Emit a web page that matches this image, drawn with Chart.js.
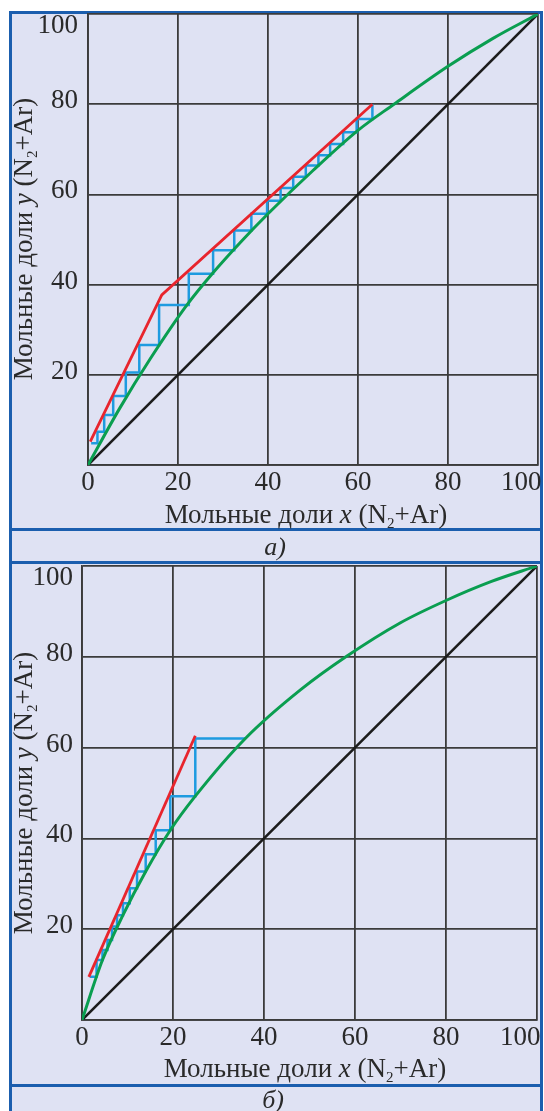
<!DOCTYPE html>
<html lang="ru">
<head>
<meta charset="utf-8">
<title>Мольные доли x, y (N2+Ar)</title>
<script src="https://cdn.jsdelivr.net/npm/chart.js@4.4.1/dist/chart.umd.min.js"></script>
<style>
  html, body { margin: 0; padding: 0; background: #fff; }
  body { width: 544px; height: 1111px; position: relative; overflow: hidden; font-family: 'Liberation Serif', serif; color: #2a2a2a; }
  #frame { position: absolute; left: 9px; top: 11px; width: 528px; height: 1120px; border: 3px solid #1b5eae; background: #dfe2f3; }
  .rule { position: absolute; left: 9px; width: 534px; height: 3px; background: #1b5eae; }
  canvas { position: absolute; left: 0; }
  .xtitle, .ytitle { position: absolute; width: 400px; text-align: center; font-size: 27px; line-height: 30px; white-space: nowrap; }
  .ytitle { transform: rotate(-90deg); }
  .cap { position: absolute; width: 100px; text-align: center; font-size: 26px; line-height: 30px; font-style: italic; }
  sub { font-size: 15px; vertical-align: -5px; line-height: 0; }
</style>
</head>
<body>
<div id="frame"></div>
<div class="rule" style="top:528px"></div>
<div class="rule" style="top:561px"></div>
<div class="rule" style="top:1084px"></div>

<canvas id="chart-a" width="544" height="529" style="top:0"></canvas>
<canvas id="chart-b" width="544" height="533" style="top:552px"></canvas>

<div class="ytitle" style="left:-177px; top:224px">Мольные доли <i>y</i> (N<sub>2</sub>+Ar)</div>
<div class="xtitle" style="left:106px; top:499px">Мольные доли <i>x</i> (N<sub>2</sub>+Ar)</div>
<div class="cap" style="left:225px; top:532px">а)</div>

<div class="ytitle" style="left:-177px; top:778px">Мольные доли <i>y</i> (N<sub>2</sub>+Ar)</div>
<div class="xtitle" style="left:105px; top:1053px">Мольные доли <i>x</i> (N<sub>2</sub>+Ar)</div>
<div class="cap" style="left:223px; top:1085px">б)</div>

<script>
// диагональ y = x
const diagX = [0, 100];
const diagY = [0, 100];

// панель а) — кривая равновесия
const eqXa = [0, 7, 13.8, 22, 27.6, 34, 40, 50, 60, 68, 80, 90, 100];
const eqYa = [0, 12.5, 23.5, 35.5, 42.4, 49.5, 55.7, 65.3, 74.2, 80, 88.4, 94.6, 100];
// рабочая линия (с изломом)
const opXa = [0.5, 16.4, 63.2];
const opYa = [5.2, 37.7, 80];
// ступени: вертикали по x, горизонтали по y
const stepXa = [63.2, 59.7, 56.7, 53.8, 51.2, 48.4, 45.6, 42.8, 39.8, 36.3, 32.5, 27.8, 22.4, 15.8, 11.4, 8.4, 5.6, 3.6, 2.1, 0.7];
const stepYa = [76.7, 73.8, 71.2, 68.7, 66.4, 63.9, 61.4, 58.6, 55.7, 52.0, 47.6, 42.4, 35.5, 26.6, 20.5, 15.3, 11.1, 7.4, 4.8];
const stepStartYa = 80;

// панель б)
const eqXb = [0, 4.5, 9, 14, 19.4, 24.9, 35.9, 48, 58, 70, 80, 90, 100];
const eqYb = [0, 13.2, 23.1, 32.7, 41.8, 49.3, 62, 72.7, 80, 87.5, 92.4, 96.6, 100];
const opXb = [1.5, 24.9];
const opYb = [9.5, 62.6];
const stepXb = [35.9, 24.9, 19.4, 16.2, 14.0, 12.1, 10.5, 9.0, 7.7, 6.6, 5.6, 4.5, 3.2, 1.7];
const stepYb = [62.0, 49.3, 41.8, 36.5, 32.7, 29.0, 25.7, 23.1, 20.6, 17.6, 15.4, 13.2, 9.5];

const axisMin = 0;
const axisMax = 100;
const tickStep = 20;

const GREEN = '#0a9e50';
const RED = '#e8252d';
const BLUE = '#1e9be0';
const BLACK = '#1c1c1c';
const GRID = '#3b3b3b';
const TEXT = '#2a2a2a';

function pts(xs, ys) {
    return xs.map((x, i) => ({ x: x, y: ys[i] }));
}

// ступенчатая линия: вертикаль вниз до кривой, горизонталь влево до рабочей линии
function staircase(xs, ys, startY) {
    const out = [];
    if (startY != null) out.push({ x: xs[0], y: startY });
    for (let i = 0; i < ys.length; i++) {
        out.push({ x: xs[i], y: ys[i] });
        out.push({ x: xs[i + 1], y: ys[i] });
    }
    return out;
}

function makeChart(id, eq, op, steps, o) {
    const ctx = document.getElementById(id).getContext('2d');
    const tickFont = { family: 'Liberation Serif', size: 27, lineHeight: 1.1 };
    return new Chart(ctx, {
        type: 'scatter',
        data: {
            datasets: [
                { data: op, borderColor: RED, borderWidth: 2.8, showLine: true, pointRadius: 0, tension: 0 },
                { data: eq, borderColor: GREEN, borderWidth: 3, showLine: true, pointRadius: 0, cubicInterpolationMode: 'monotone' },
                { data: pts(diagX, diagY), borderColor: BLACK, borderWidth: 2.6, showLine: true, pointRadius: 0 },
                { data: steps, borderColor: BLUE, borderWidth: 2.5, showLine: true, pointRadius: 0, tension: 0 }
            ]
        },
        options: {
            responsive: false,
            animation: false,
            layout: { padding: { top: 14, right: o.right, bottom: 0, left: 0 } },
            plugins: { legend: { display: false }, tooltip: { enabled: false } },
            scales: {
                x: {
                    type: 'linear', min: axisMin, max: axisMax,
                    ticks: {
                        stepSize: tickStep, padding: 3, color: TEXT, font: tickFont,
                        maxRotation: 0, autoSkip: false,
                        callback: v => v === axisMax ? '100     ' : String(v)
                    },
                    grid: { color: GRID, lineWidth: 1.8, drawTicks: false },
                    border: { color: GRID, width: 1.8 },
                    afterFit: s => { s.height = o.xh; s.paddingLeft = 0; s.paddingRight = 0; }
                },
                y: {
                    type: 'linear', min: axisMin, max: axisMax,
                    ticks: {
                        stepSize: tickStep, padding: o.ypad, color: TEXT, font: tickFont, labelOffset: -3,
                        callback: v => v === 0 ? '' : (v === axisMax ? ['', '100'] : String(v))
                    },
                    grid: { color: GRID, lineWidth: 1.8, drawTicks: false },
                    border: { color: GRID, width: 1.8 },
                    afterFit: s => { s.width = o.yw; s.paddingTop = 0; s.paddingBottom = 0; }
                }
            }
        }
    });
}

makeChart('chart-a', pts(eqXa, eqYa), pts(opXa, opYa), staircase(stepXa, stepYa, stepStartYa),
    { yw: 88, right: 6, xh: 64, ypad: 10 });
makeChart('chart-b', pts(eqXb, eqYb), pts(opXb, opYb), staircase(stepXb, stepYb, null),
    { yw: 82, right: 7, xh: 65, ypad: 9 });
</script>
</body>
</html>
